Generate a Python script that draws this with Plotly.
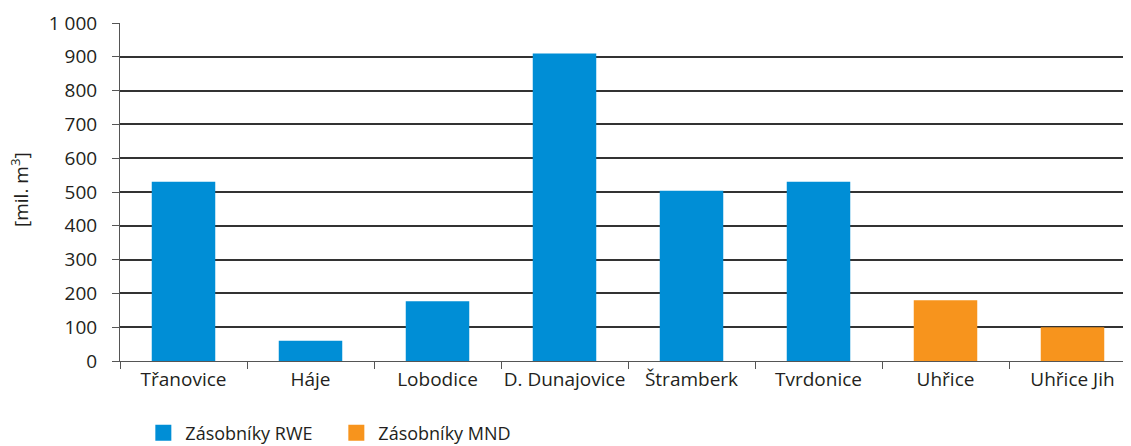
import plotly.graph_objects as go

FONT = 'Open Sans'
TEXT = '#231f20'
BLUE = '#008ed6'
ORANGE = '#f7941d'

rwe_sites = ['Třanovice', 'Háje', 'Lobodice', 'D. Dunajovice', 'Štramberk', 'Tvrdonice']
rwe_values = [530, 60, 177, 910, 504, 530]
mnd_sites = ['Uhřice', 'Uhřice Jih']
mnd_values = [180, 100]
categories = rwe_sites + mnd_sites
y_ticks = list(range(0, 1001, 100))

fig = go.Figure()
fig.add_trace(go.Bar(
    x=rwe_sites, y=rwe_values, name='Zásobníky RWE', showlegend=False,
    marker_color=BLUE, marker_line_width=0,
    hovertemplate='<b>%{x}</b><br>%{y:,.0f} mil. m³<extra></extra>',
))
fig.add_trace(go.Bar(
    x=mnd_sites, y=mnd_values, name='Zásobníky MND', showlegend=False,
    marker_color=ORANGE, marker_line_width=0,
    hovertemplate='<b>%{x}</b><br>%{y:,.0f} mil. m³<extra></extra>',
))
# legend-only entries with bigger square swatches
for name, col in [('Zásobníky RWE', BLUE), ('Zásobníky MND', ORANGE)]:
    fig.add_trace(go.Scatter(
        x=[None], y=[None], mode='markers', name=name,
        marker=dict(symbol='square', size=16, color=col),
    ))

fig.update_layout(
    width=1131, height=446,
    margin=dict(l=112, r=3, t=15, b=93, autoexpand=False),
    paper_bgcolor='white', plot_bgcolor='white',
    font=dict(family=FONT, size=19, color=TEXT),
    barmode='overlay', bargap=0.5,
    separators=', ',
    showlegend=True,
    legend=dict(orientation='h', x=0.021, y=-0.213, xanchor='left', yanchor='middle',
                font=dict(size=18, color=TEXT), itemwidth=34, itemsizing='trace',
                entrywidth=144, entrywidthmode='pixels', traceorder='normal'),
)
fig.update_xaxes(
    categoryorder='array', categoryarray=categories,
    showline=True, linecolor='#555', linewidth=1, tickangle=0,
    ticks='outside', tickson='boundaries', ticklen=7, tickcolor='#555',
    ticklabelstandoff=1,
    showgrid=False, automargin=False,
)
fig.update_yaxes(
    range=[0, 1000], tickvals=y_ticks, tickformat=',d',
    showline=True, linecolor='#555', linewidth=1,
    ticks='outside', ticklen=7, tickcolor='#555',
    ticklabelstandoff=11,
    showgrid=True, gridcolor='#333', gridwidth=1.5,
    zeroline=False, automargin=False,
)
fig.add_annotation(
    text='[mil. m<sup>3</sup>]', textangle=-90, showarrow=False,
    xref='paper', yref='paper', x=-0.0984, y=0.506,
    xanchor='center', yanchor='middle',
    font=dict(size=19, color=TEXT),
)

fig.write_html("out.html")
